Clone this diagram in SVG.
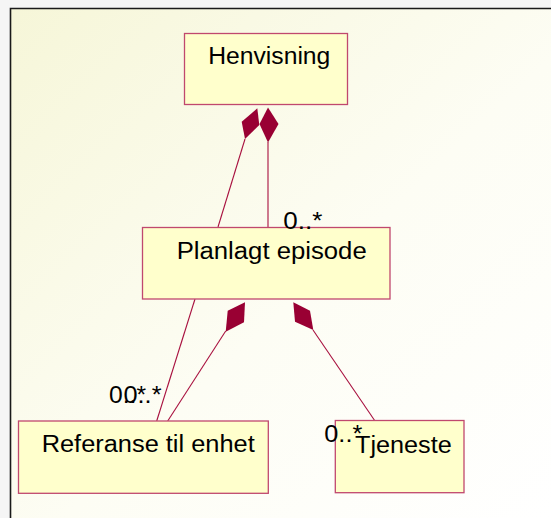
<svg xmlns="http://www.w3.org/2000/svg" width="551" height="518" viewBox="0 0 551 518">
  <defs>
    <linearGradient id="paper" x1="0" y1="0" x2="1" y2="1">
      <stop offset="0" stop-color="#f6f6d8"/>
      <stop offset="0.55" stop-color="#fdfdf4"/>
      <stop offset="1" stop-color="#ffffff"/>
    </linearGradient>
    <style>
      .cls { fill: #ffffcc; stroke: #c0486e; stroke-width: 1.3; }
      .name { font-family: "Liberation Sans", Arial, sans-serif; font-size: 23.5px; fill: #000; }
      .mult { font-family: "Liberation Sans", Arial, sans-serif; font-size: 23px; fill: #000; }
      .link { stroke: #a8103f; stroke-width: 1.1; fill: none; }
      .comp { fill: #990033; stroke: none; }
    </style>
  </defs>

  <!-- page and diagram frame -->
  <rect x="0" y="0" width="551" height="518" fill="#f5f5f5"/>
  <rect x="10" y="8" width="541" height="510" fill="url(#paper)"/>
  <path d="M10.5 518 V8.5 H551" fill="none" stroke="#1a1a1a" stroke-width="1.6"/>

  <!-- composition links -->
  <g id="connectors">
    <line class="link" x1="245" y1="139" x2="218" y2="227"/>
    <line class="link" x1="268" y1="142" x2="268" y2="227"/>
    <line class="link" x1="195" y1="299" x2="156.7" y2="421"/>
    <line class="link" x1="225.7" y1="331" x2="167.7" y2="421"/>
    <line class="link" x1="313" y1="330" x2="375" y2="421"/>
    <polygon class="comp" points="257.3,108.3 241.7,121.7 245,139 259.3,125"/>
    <polygon class="comp" points="268,107.5 278.5,124 268,142.5 259.5,124"/>
    <polygon class="comp" points="245,302.3 227.7,310.7 225.7,331.7 244,322.3"/>
    <polygon class="comp" points="293.3,302.3 295,321.7 313.3,330 310,310.7"/>
  </g>

  <g id="henvisning">
    <rect class="cls" x="184.5" y="33.5" width="163" height="71"/>
    <text class="name" x="208.3" y="64" textLength="122" lengthAdjust="spacingAndGlyphs">Henvisning</text>
  </g>

  <g id="planlagt-episode">
    <rect class="cls" x="142.5" y="227.5" width="247.5" height="71.5"/>
    <text class="name" x="176.7" y="259" textLength="190" lengthAdjust="spacingAndGlyphs">Planlagt episode</text>
  </g>

  <g id="referanse-til-enhet">
    <rect class="cls" x="18.5" y="421" width="249.8" height="72.3"/>
    <text class="name" x="41.7" y="452.3" textLength="213" lengthAdjust="spacingAndGlyphs">Referanse til enhet</text>
  </g>

  <g id="tjeneste">
    <rect class="cls" x="335.3" y="420.5" width="128.7" height="72.2"/>
    <text class="name" x="355" y="453.3" textLength="96.7" lengthAdjust="spacingAndGlyphs">Tjeneste</text>
  </g>

  <!-- multiplicities -->
  <g id="multiplicities">
    <text class="mult" x="283.3" y="229.3" textLength="39" lengthAdjust="spacingAndGlyphs">0..*</text>
    <text class="mult" x="109" y="403.3" textLength="37" lengthAdjust="spacingAndGlyphs">0..*</text>
    <text class="mult" x="123.5" y="403.3" textLength="38" lengthAdjust="spacingAndGlyphs">0..*</text>
    <text class="mult" x="324.3" y="442.3" textLength="38" lengthAdjust="spacingAndGlyphs">0..*</text>
  </g>
</svg>
